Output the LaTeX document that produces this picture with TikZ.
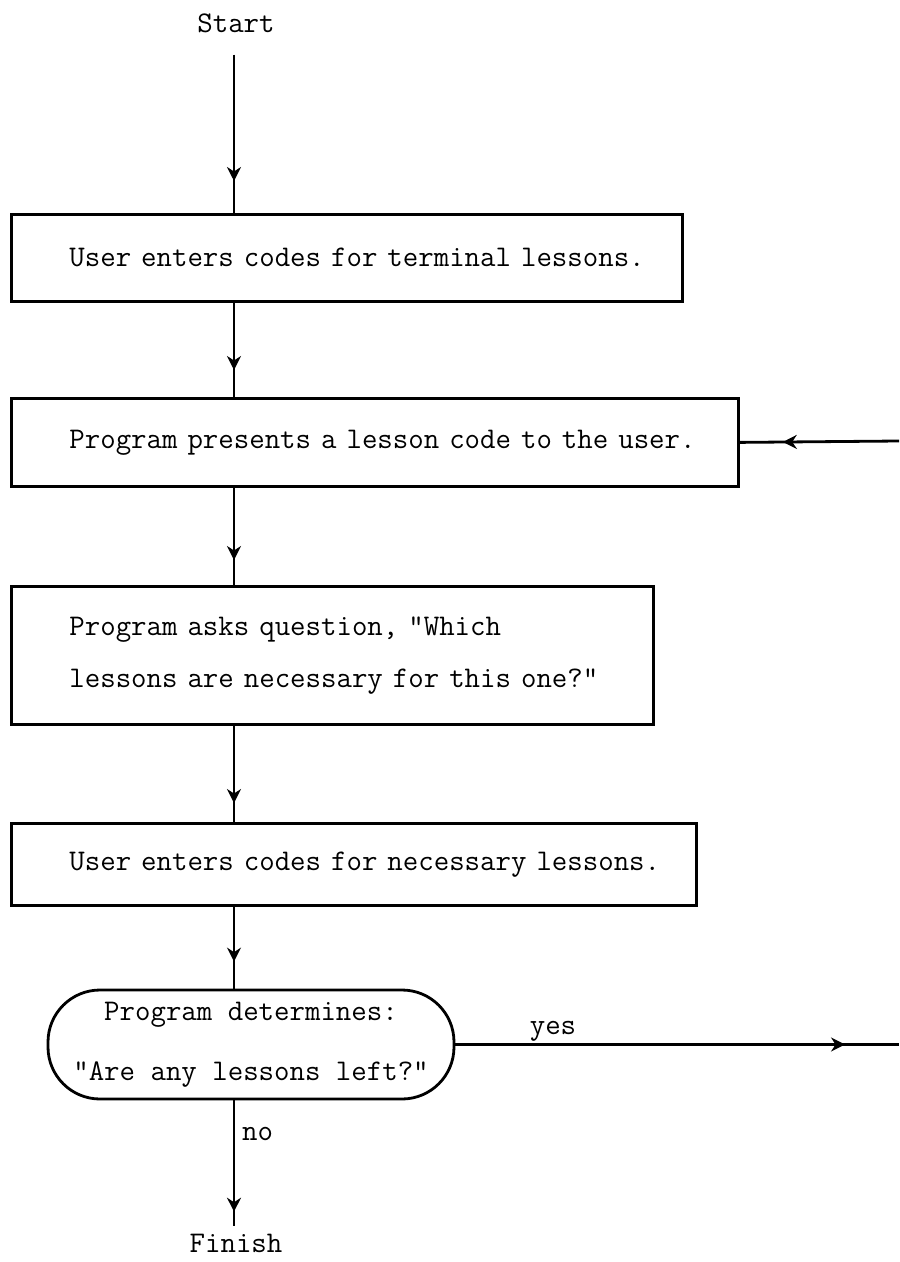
\documentclass[tikz,border=0pt]{standalone}
\usepackage{fontspec}
\usetikzlibrary{arrows.meta,decorations.markings}

\begin{document}
\begin{tikzpicture}[x=0.5pt,y=-0.5pt,line width=1.4pt,
  font=\fontsize{15}{26}\selectfont\ttfamily,
  stepbox/.style={draw,rectangle,anchor=north west,inner xsep=0pt,align=left},
  flow/.style={postaction=decorate,decoration={markings,
    mark=at position -#1 with {\arrow[line width=1pt]{Stealth[length=7pt,width=7pt]}}}},
  flow/.default=13pt]
   \useasboundingbox (0,0) rectangle (899,1262);
   \coordinate (spine) at (234,0);
   \node (st) at (236,23) {Start};
   \node[stepbox,text width=335.5pt,minimum height=43.5pt] (b1) at (10,213)
     {\hspace*{29pt}User enters codes for terminal lessons.};
   \node[stepbox,text width=363.5pt,minimum height=44pt] (b2) at (10,397)
     {\hspace*{29pt}Program presents a lesson code to the user.};
   \node[stepbox,text width=321pt,minimum height=69pt] (b3) at (10,585)
     {\hspace*{29pt}Program asks question, "Which\\\hspace*{29pt}lessons are necessary for this one?"};
   \node[stepbox,text width=342.5pt,minimum height=41pt] (b4) at (10,822)
     {\hspace*{29pt}User enters codes for necessary lessons.};
   \node[draw,rounded corners=26pt,minimum width=203pt,minimum height=54.5pt,align=center,
     font=\fontsize{15}{30}\selectfont\ttfamily] (dec) at (251,1044.5)
     {Program determines:\\"Are any lessons left?"};
   \node (fin) at (236,1243) {Finish};
   \coordinate (yesend) at (899,1044.5);
   \coordinate (back) at (899,441);
   \draw[flow=16pt,shorten <=7pt] (st.south -| spine) -- (b1.north -| spine);
   \draw[flow=13.5pt] (b1.south -| spine) -- (b2.north -| spine);
   \draw[flow=12.5pt] (b2.south -| spine) -- (b3.north -| spine);
   \draw[flow=9.5pt] (b3.south -| spine) -- (b4.north -| spine);
   \draw[flow=13.5pt] (b4.south -| spine) -- (dec.north -| spine);
   \draw[flow=7pt] (dec.south -| spine) -- node[right,pos=.27] {no} (fin.north -| spine);
   \draw[flow=27pt] (dec.east) -- node[above,pos=.22,inner sep=1pt] {yes} (yesend);
   \draw[flow=21.5pt] (back) -- (b2.east);
\end{tikzpicture}
\end{document}
